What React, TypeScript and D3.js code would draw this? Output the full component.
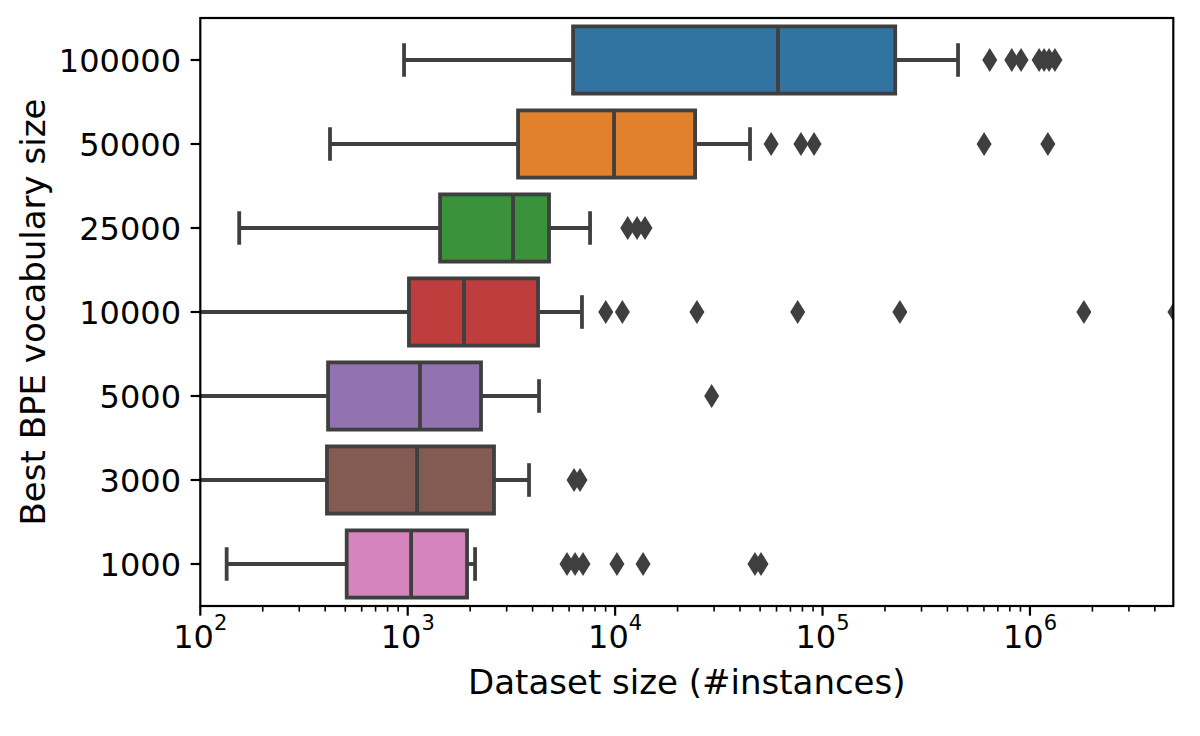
import React from "react";
import * as d3 from "d3";

const categories = ["100000", "50000", "25000", "10000", "5000", "3000", "1000"];
const colors = ["#3274a1", "#e1812c", "#3a923a", "#c03d3e", "#9372b2", "#845b53", "#d684bd"];
const whiskerLow = [960, 422, 154, 60, 60, 60, 134];
const q1 = [6270, 3404, 1432, 1014, 413, 408, 508];
const median = [61000, 9880, 3220, 1868, 1146, 1109, 1038];
const q3 = [224000, 24300, 4800, 4250, 2256, 2606, 1932];
const whiskerHigh = [450000, 44700, 7570, 6920, 4296, 3845, 2112];
const outliers = [
  [640000, 817000, 906000, 1107000, 1170000, 1236000, 1320000],
  [56500, 78700, 91000, 601000, 1220000],
  [11500, 12760, 13930],
  [9010, 10840, 24800, 75900, 236000, 1820000, 5000000],
  [29200],
  [6340, 6770],
  [5860, 6410, 7000, 10200, 13640, 47200, 50500],
];
const majorTicks = [1e2, 1e3, 1e4, 1e5, 1e6];
const exponents = ["2", "3", "4", "5", "6"];

const W = 1200;
const H = 736;
const L = 200.3;
const R = 1173.3;
const T = 18;
const B = 606;
const LINE = "#3f3f3f";
const FONT = "DejaVu Sans, sans-serif";

export default function App() {
  const x = d3.scaleLog().domain([100, 4.91e6]).range([L, R]);
  const y = d3.scaleBand<string>().domain(categories).range([T, B]).padding(0);
  const bw = y.bandwidth() * 0.8;
  const capHalf = bw / 4;
  const sw = 3.8;

  const minorTicks: number[] = [];
  for (let e = 2; e <= 6; e++) {
    for (let m = 2; m <= 9; m++) {
      const v = m * Math.pow(10, e);
      if (v <= 4.91e6) minorTicks.push(v);
    }
  }

  const diamond = (cx: number, cy: number) => {
    const hw = 7.5;
    const hh = 12;
    return `M${cx},${cy - hh}L${cx + hw},${cy}L${cx},${cy + hh}L${cx - hw},${cy}Z`;
  };

  return (
    <svg width={W} height={H} style={{ display: "block", position: "absolute", left: 0, top: 0 }}>
      <rect width={W} height={H} fill="#fff" />
      <defs>
        <clipPath id="plotclip">
          <rect x={L} y={T} width={R - L} height={B - T} />
        </clipPath>
      </defs>
      <g clipPath="url(#plotclip)">
        {categories.map((c, i) => {
          const cy = (y(c) as number) + y.bandwidth() / 2;
          const x1 = x(q1[i]);
          const x3 = x(q3[i]);
          const xm = x(median[i]);
          const xl = x(whiskerLow[i]);
          const xh = x(whiskerHigh[i]);
          return (
            <g key={c}>
              <rect x={x1} y={cy - bw / 2} width={x3 - x1} height={bw} fill={colors[i]} stroke={LINE} strokeWidth={sw} />
              <line x1={xl} x2={x1} y1={cy} y2={cy} stroke={LINE} strokeWidth={sw} />
              <line x1={x3} x2={xh} y1={cy} y2={cy} stroke={LINE} strokeWidth={sw} />
              <line x1={xl} x2={xl} y1={cy - capHalf} y2={cy + capHalf} stroke={LINE} strokeWidth={sw} />
              <line x1={xh} x2={xh} y1={cy - capHalf} y2={cy + capHalf} stroke={LINE} strokeWidth={sw} />
              <line x1={xm} x2={xm} y1={cy - bw / 2} y2={cy + bw / 2} stroke={LINE} strokeWidth={sw} />
              {outliers[i].map((v, j) => (
                <path key={j} d={diamond(x(v), cy)} fill={LINE} />
              ))}
            </g>
          );
        })}
      </g>
      <rect x={L} y={T} width={R - L} height={B - T} fill="none" stroke="#000" strokeWidth={2.2} />
      {minorTicks.map((v, i) => (
        <line key={"mn" + i} x1={x(v)} x2={x(v)} y1={B} y2={B + 5.6} stroke="#000" strokeWidth={1.6} />
      ))}
      {majorTicks.map((v, i) => (
        <g key={"mj" + i}>
          <line x1={x(v)} x2={x(v)} y1={B} y2={B + 9.7} stroke="#000" strokeWidth={2.2} />
          <text x={x(v)} y={648} textAnchor="middle" fontFamily={FONT} fontSize={32} fill="#000">
            <tspan>10</tspan>
            <tspan fontSize={21} dy={-18}>{exponents[i]}</tspan>
          </text>
        </g>
      ))}
      {categories.map((c) => {
        const cy = (y(c) as number) + y.bandwidth() / 2;
        return (
          <g key={"yt" + c}>
            <line x1={L - 9.7} x2={L} y1={cy} y2={cy} stroke="#000" strokeWidth={2.2} />
            <text x={181} y={cy + 11.5} textAnchor="end" fontFamily={FONT} fontSize={32} fill="#000">
              {c}
            </text>
          </g>
        );
      })}
      <text x={(L + R) / 2} y={694} textAnchor="middle" fontFamily={FONT} fontSize={34} fill="#000">
        Dataset size (#instances)
      </text>
      <text
        transform={`translate(45,${(T + B) / 2}) rotate(-90)`}
        textAnchor="middle"
        fontFamily={FONT}
        fontSize={34}
        fill="#000"
      >
        Best BPE vocabulary size
      </text>
    </svg>
  );
}
